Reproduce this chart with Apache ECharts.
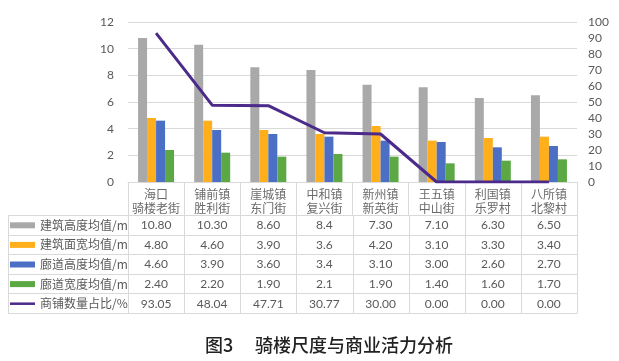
<!DOCTYPE html>
<html><head><meta charset="utf-8">
<script src="https://cdn.jsdelivr.net/npm/echarts@6/dist/echarts.min.js"></script>
<style>html,body{margin:0;padding:0;background:#fff}#c{width:619px;height:361px}</style>
</head><body><div id="c"></div>
<script>
const categories = ['海口\n骑楼老街','铺前镇\n胜利街','崖城镇\n东门街','中和镇\n复兴街','新州镇\n新英街','王五镇\n中山街','利国镇\n乐罗村','八所镇\n北黎村'];
const seriesNames = ['建筑高度均值/m','建筑面宽均值/m','廊道高度均值/m','廊道宽度均值/m','商铺数量占比/%'];
const buildingHeight = ['10.80','10.30','8.60','8.4','7.30','7.10','6.30','6.50'];
const buildingWidth = ['4.80','4.60','3.90','3.6','4.20','3.10','3.30','3.40'];
const corridorHeight = ['4.60','3.90','3.60','3.4','3.10','3.00','2.60','2.70'];
const corridorWidth = ['2.40','2.20','1.90','2.1','1.90','1.40','1.60','1.70'];
const shopRatio = ['93.05','48.04','47.71','30.77','30.00','0.00','0.00','0.00'];
const leftTicks = [0, 12, 2];
const rightTicks = [0, 100, 10];
const colors = ['#A9A9A9','#FFAE1C','#4A6FC5','#5CA845','#4B2A8A'];
const tableData = [buildingHeight, buildingWidth, corridorHeight, corridorWidth, shopRatio];

const chart = echarts.init(document.getElementById('c'));
const txt = '#595959';
const font = '"Noto Sans CJK SC","Noto Sans",sans-serif';
const barSeries = [0,1,2,3].map(i => ({
  name: seriesNames[i], type: 'bar', yAxisIndex: 0, barWidth: 9, barGap: '0%',
  itemStyle: {color: colors[i]}, data: tableData[i].map(Number)
}));
chart.setOption({
  animation: false,
  textStyle: {fontFamily: font},
  grid: {left: 128, right: 42, top: 22, bottom: 179},
  xAxis: {type: 'category', data: categories,
    axisLine: {lineStyle: {color: '#D9D9D9'}},
    axisTick: {show: true, length: 33, lineStyle: {color: '#D9D9D9'}},
    axisLabel: {color: '#6a6a6a', fontSize: 12, lineHeight: 14, margin: 5, interval: 0, fontFamily: font}},
  yAxis: [
    {type: 'value', min: leftTicks[0], max: leftTicks[1], interval: leftTicks[2],
     axisLine: {show: false}, axisTick: {show: false},
     axisLabel: {color: txt, fontSize: 12, margin: 14, fontFamily: 'Lato, sans-serif'},
     splitLine: {lineStyle: {color: '#D9D9D9'}}},
    {type: 'value', min: rightTicks[0], max: rightTicks[1], interval: rightTicks[2],
     axisLine: {show: false}, axisTick: {show: false}, splitLine: {show: false},
     axisLabel: {color: txt, fontSize: 12, margin: 11, fontFamily: 'Lato, sans-serif'}}
  ],
  series: barSeries.concat([{
    name: seriesNames[4], type: 'line', yAxisIndex: 1, symbol: 'none',
    lineStyle: {color: colors[4], width: 3}, data: shopRatio.map(Number)
  }])
});

// data table drawn below the chart using the axis scale
const centers = categories.map((c, i) => chart.convertToPixel({xAxisIndex: 0}, i));
const band = centers.length > 1 ? centers[1] - centers[0] : 56;
const colLeft = centers[0] - band / 2;
const colRight = centers[centers.length - 1] + band / 2;
const tableLeft = 8;
const rowTop = 215, rowH = 19.6;
const els = [];
const lineStyle = {stroke: '#D9D9D9', lineWidth: 1};
for (let r = 0; r <= tableData.length; r++) {
  const y = Math.round(rowTop + r * rowH) + 0.5;
  els.push({type: 'line', shape: {x1: tableLeft, y1: y, x2: colRight, y2: y}, style: lineStyle, silent: true});
}
const bottomY = Math.round(rowTop + tableData.length * rowH) + 0.5;
const vx = [tableLeft].concat(centers.map(c => c - band / 2)).concat([colRight]);
vx.forEach(x => {
  const xx = Math.round(x) + 0.5;
  els.push({type: 'line', shape: {x1: xx, y1: rowTop, x2: xx, y2: bottomY}, style: lineStyle, silent: true});
});
tableData.forEach((row, r) => {
  const cy = rowTop + r * rowH + rowH / 2 + 0.5;
  if (r < 4) {
    els.push({type: 'rect', shape: {x: 10, y: cy - 3, width: 25, height: 6}, style: {fill: colors[r]}, silent: true});
  } else {
    els.push({type: 'line', shape: {x1: 10, y1: cy, x2: 35, y2: cy}, style: {stroke: colors[r], lineWidth: 2.5}, silent: true});
  }
  els.push({type: 'text', x: 40, y: cy, style: {text: seriesNames[r], fill: txt, font: '12px ' + font, textVerticalAlign: 'middle', textAlign: 'left'}, silent: true});
  row.forEach((v, i) => {
    els.push({type: 'text', x: centers[i], y: cy, style: {text: v, fill: txt, font: '12px Lato, sans-serif', textAlign: 'center', textVerticalAlign: 'middle'}, silent: true});
  });
});
els.push({type: 'text', x: 205, y: 345, style: {text: '图3', fill: '#222', font: '500 18px ' + font, textVerticalAlign: 'middle'}, silent: true});
els.push({type: 'text', x: 255, y: 345, style: {text: '骑楼尺度与商业活力分析', fill: '#222', font: '500 18px ' + font, textVerticalAlign: 'middle'}, silent: true});
chart.setOption({graphic: {elements: els}});
</script></body></html>
